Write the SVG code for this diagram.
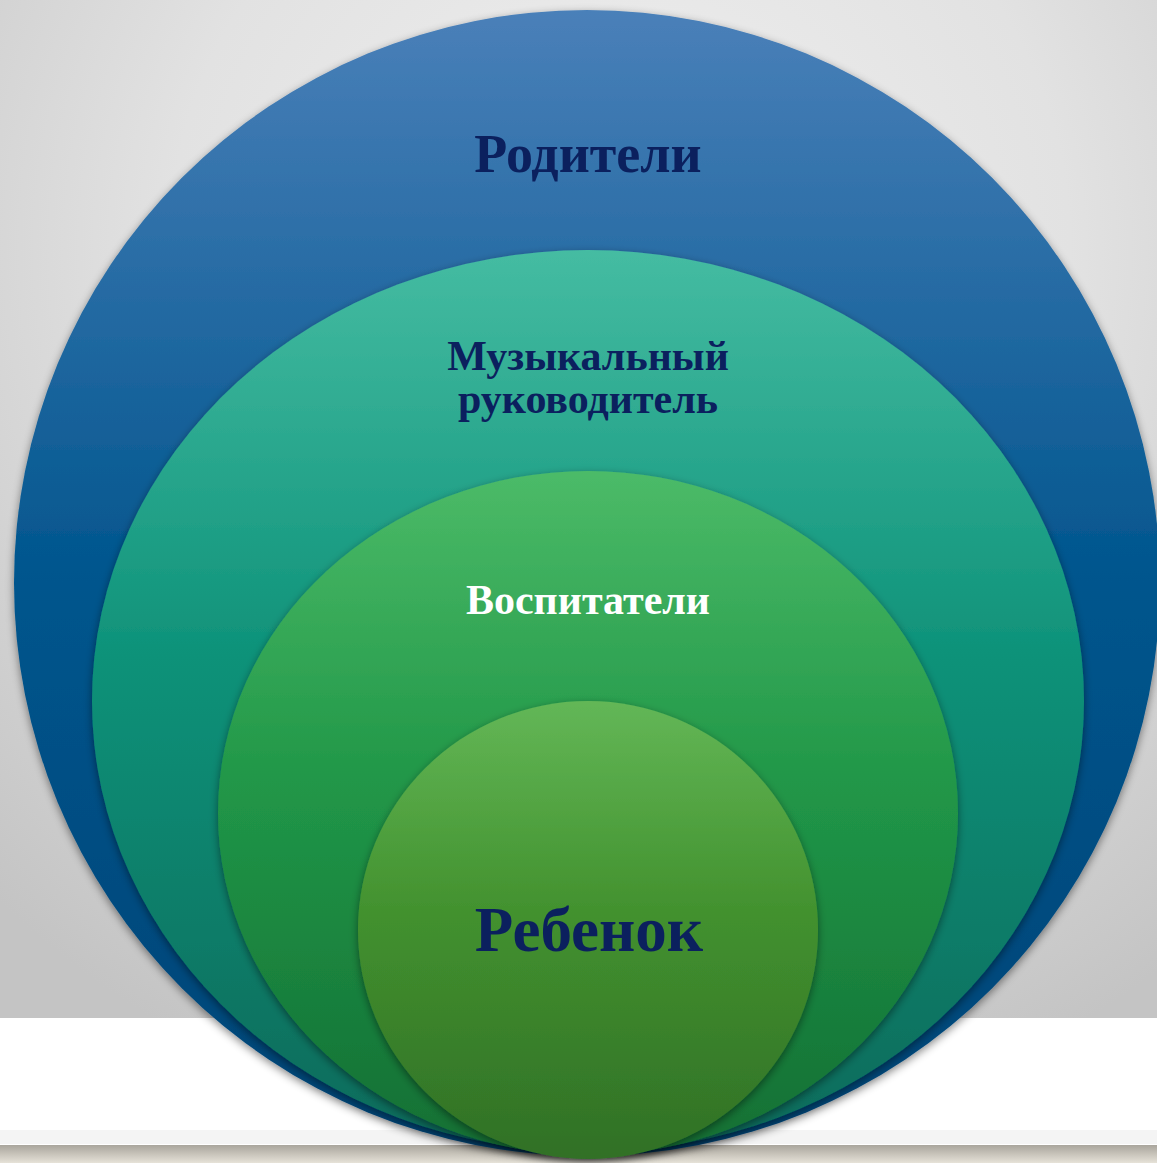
<svg xmlns="http://www.w3.org/2000/svg" width="1157" height="1163" viewBox="0 0 1157 1163">
<defs>
<radialGradient id="bg" cx="620" cy="250" r="900" gradientUnits="userSpaceOnUse">
<stop offset="0" stop-color="#f0f0f0"/>
<stop offset="0.5" stop-color="#e2e2e2"/>
<stop offset="1" stop-color="#c4c4c4"/>
</radialGradient>
<linearGradient id="floor" x1="0" y1="1145" x2="0" y2="1163" gradientUnits="userSpaceOnUse">
<stop offset="0" stop-color="#a9a59c"/>
<stop offset="1" stop-color="#e6e2d8"/>
</linearGradient>
<linearGradient id="gBlue" x1="0" y1="10" x2="0" y2="1156" gradientUnits="userSpaceOnUse">
<stop offset="0" stop-color="#4a80b9"/>
<stop offset="0.5" stop-color="#00558d"/>
<stop offset="1" stop-color="#004475"/>
</linearGradient>
<linearGradient id="gTeal" x1="0" y1="250" x2="0" y2="1152" gradientUnits="userSpaceOnUse">
<stop offset="0" stop-color="#45bca2"/>
<stop offset="0.45" stop-color="#0e9279"/>
<stop offset="1" stop-color="#086a5a"/>
</linearGradient>
<linearGradient id="gGreen" x1="0" y1="470" x2="0" y2="1155" gradientUnits="userSpaceOnUse">
<stop offset="0" stop-color="#4cbb68"/>
<stop offset="0.45" stop-color="#219748"/>
<stop offset="1" stop-color="#136f34"/>
</linearGradient>
<linearGradient id="gInner" x1="0" y1="700" x2="0" y2="1160" gradientUnits="userSpaceOnUse">
<stop offset="0" stop-color="#63b757"/>
<stop offset="0.45" stop-color="#43922f"/>
<stop offset="1" stop-color="#307026"/>
</linearGradient>
<filter id="sh" x="-10%" y="-10%" width="120%" height="125%">
<feDropShadow dx="0" dy="3" stdDeviation="4" flood-color="#000" flood-opacity="0.45"/>
</filter>
</defs>
<style>
.t{font-family:"Liberation Serif","Times New Roman",serif;font-weight:bold;text-anchor:middle}
.navy{fill:#0b205e}
.white{fill:#ffffff}
</style>
<rect x="0" y="0" width="1157" height="1018" fill="url(#bg)"/>
<rect x="0" y="1018" width="1157" height="127" fill="#ffffff"/>
<rect x="0" y="1130" width="1157" height="14" fill="#f4f4f4"/>
<rect x="0" y="1145" width="1157" height="18" fill="url(#floor)"/>
<g id="node-roditeli">
<ellipse cx="587" cy="583" rx="573" ry="573" fill="url(#gBlue)" filter="url(#sh)"/>
<text class="t navy" x="588" y="172" font-size="54">Родители</text>
</g>
<g id="node-muzruk">
<ellipse cx="588" cy="701" rx="496" ry="451" fill="url(#gTeal)" filter="url(#sh)"/>
<text class="t navy" x="588" y="370" font-size="42">Музыкальный</text>
<text class="t navy" x="588" y="413" font-size="42">руководитель</text>
</g>
<g id="node-vospitateli">
<ellipse cx="588" cy="813" rx="370" ry="342" fill="url(#gGreen)" filter="url(#sh)"/>
<text class="t white" x="588" y="614" font-size="42">Воспитатели</text>
</g>
<g id="node-rebenok">
<ellipse cx="588" cy="930" rx="230" ry="229" fill="url(#gInner)" filter="url(#sh)"/>
<text class="t navy" x="589" y="951" font-size="63">Ребенок</text>
</g>
<g id="connectors"/>
</svg>
